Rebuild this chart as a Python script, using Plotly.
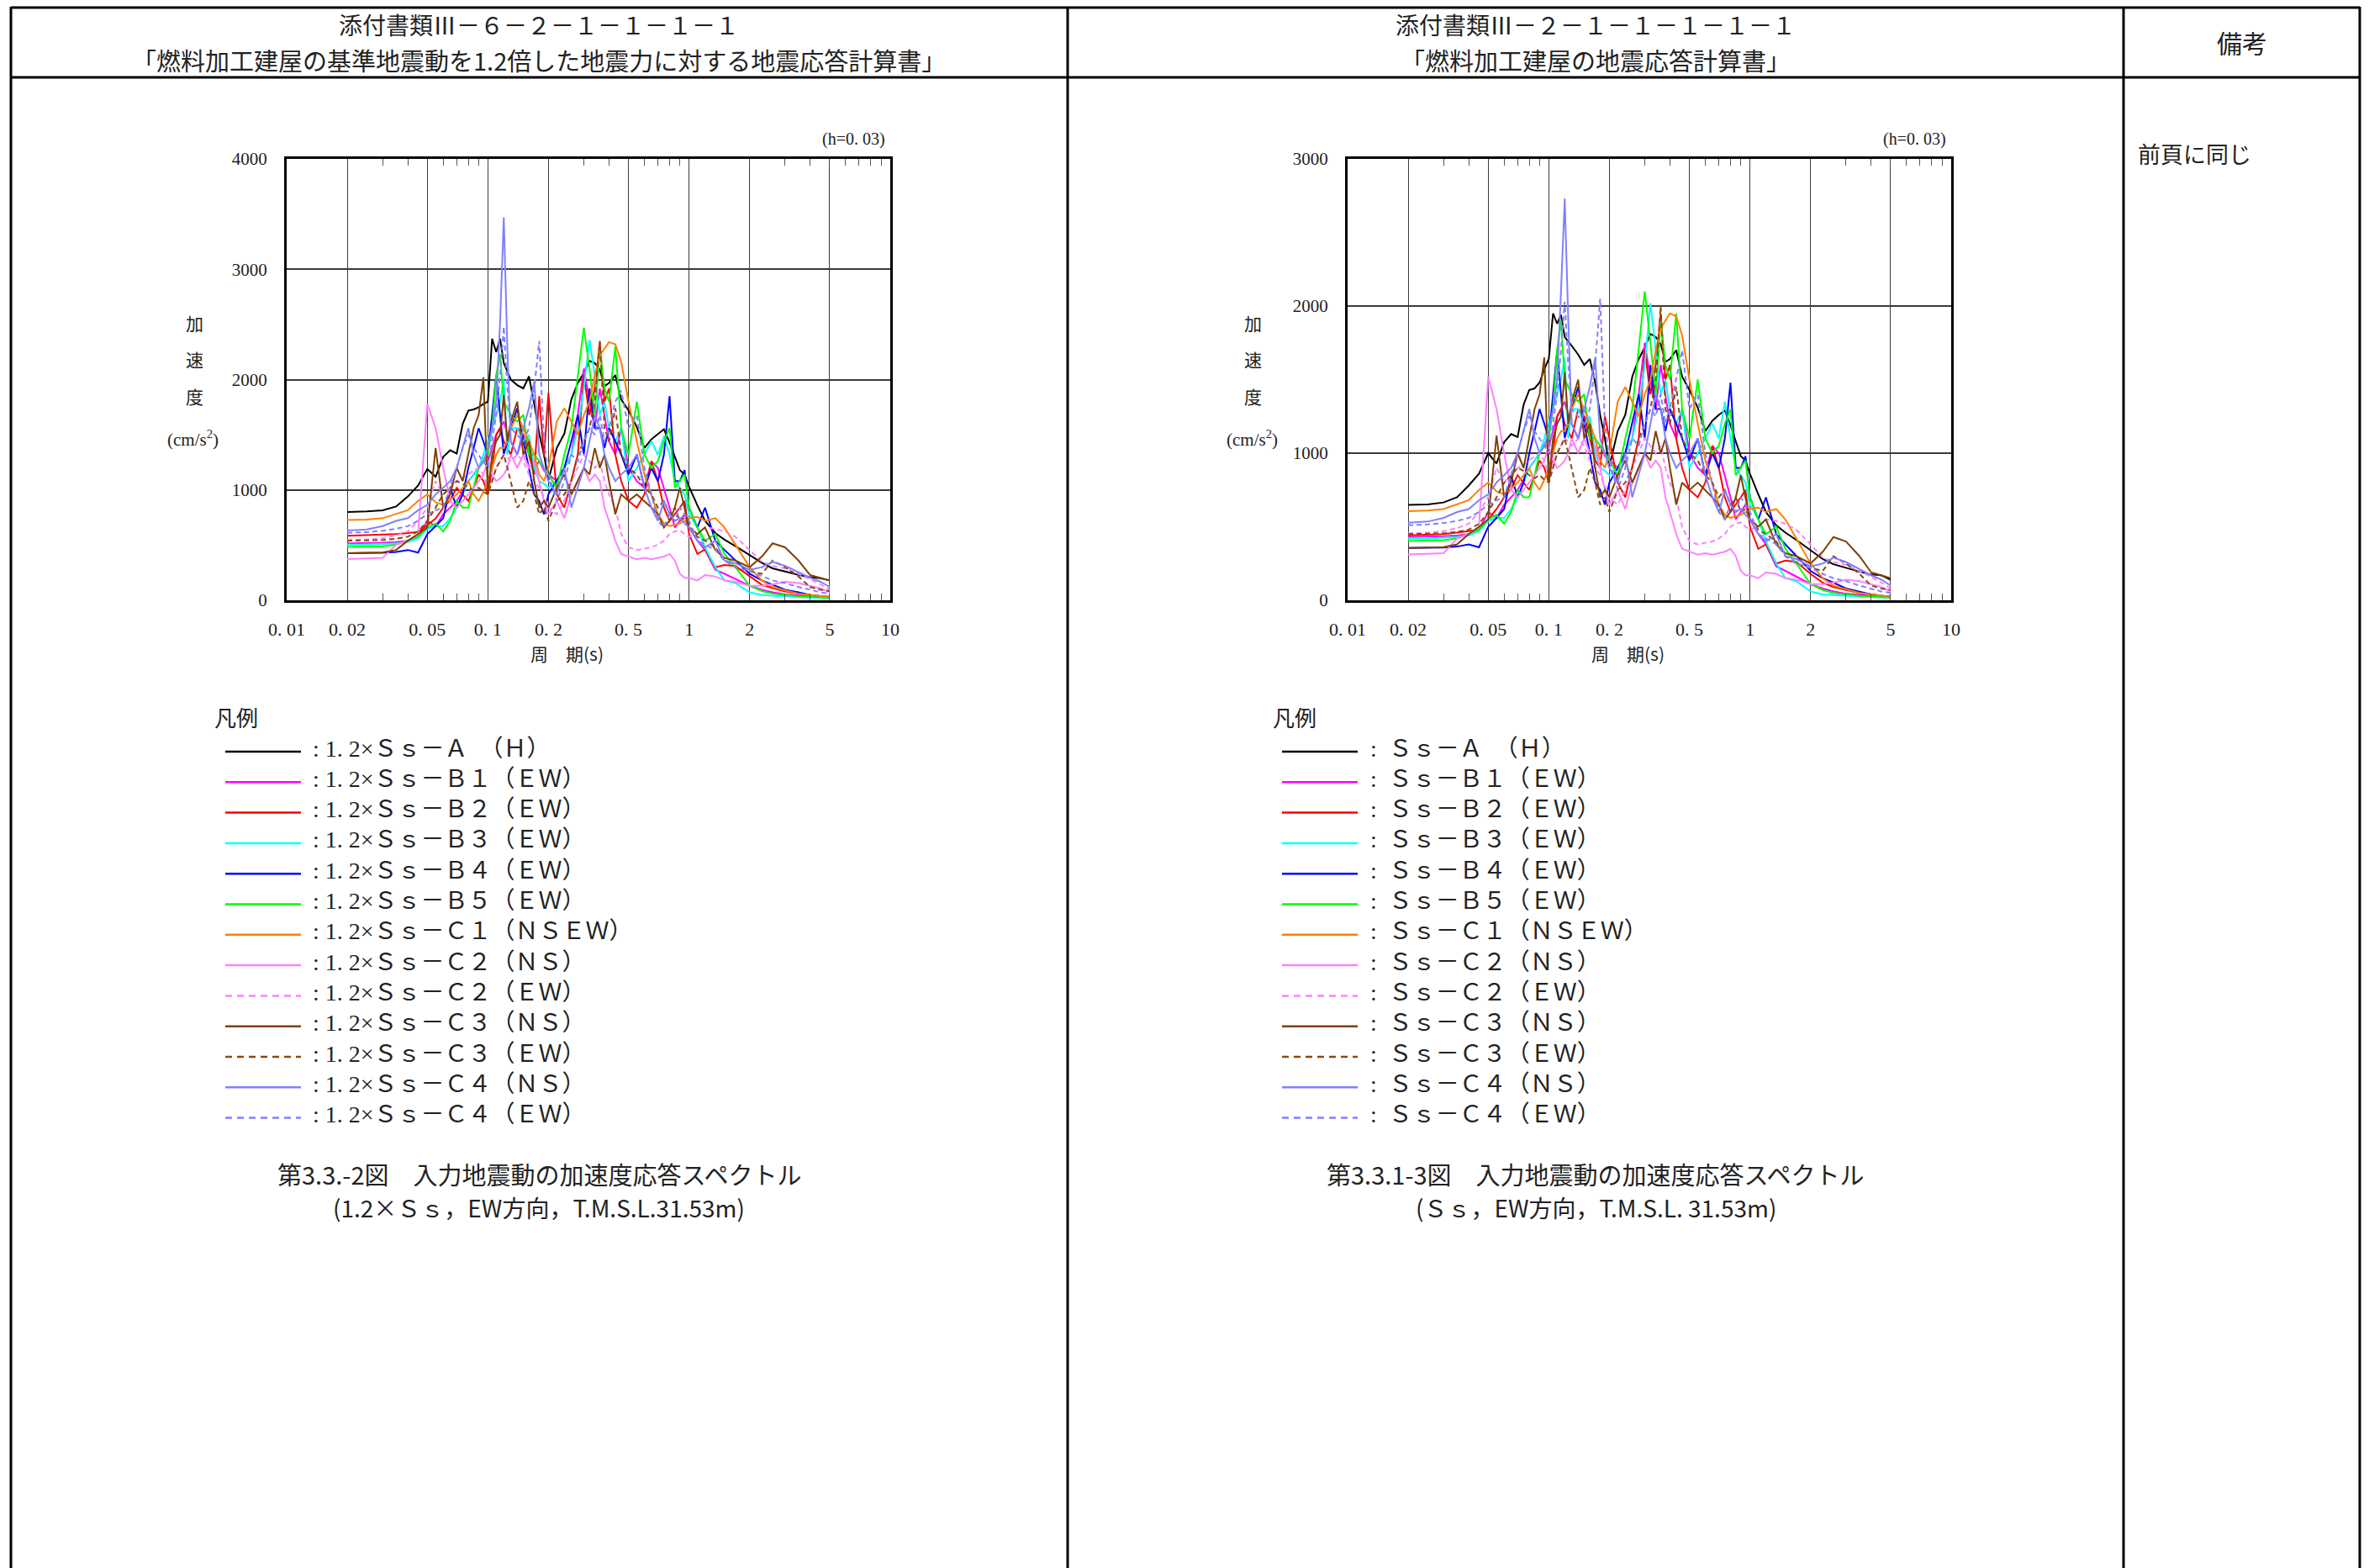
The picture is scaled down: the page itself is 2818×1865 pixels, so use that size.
import plotly.graph_objects as go

W, H = 2818, 1865

# ---------------- data ----------------
PERIOD = [0.02, 0.025, 0.03, 0.035, 0.04, 0.045, 0.05, 0.055, 0.06, 0.065,
          0.07, 0.075, 0.08, 0.085, 0.09, 0.095, 0.1, 0.105, 0.11, 0.115,
          0.12, 0.125, 0.13, 0.14, 0.15, 0.16, 0.17, 0.18, 0.19, 0.2,
          0.22, 0.24, 0.26, 0.28, 0.3, 0.32, 0.34, 0.36, 0.38, 0.4,
          0.43, 0.46, 0.5, 0.55, 0.6, 0.65, 0.7, 0.75, 0.8, 0.85,
          0.9, 0.95, 1.0, 1.1, 1.2, 1.35, 1.5, 1.7, 2.0, 2.3,
          2.6, 3.0, 3.5, 4.0, 4.5, 5.0]

# Right chart: Ss (cm/s2)
SS_A = [648, 652, 665, 700, 780, 860, 1000, 930, 1075, 1130,
        1110, 1330, 1430, 1440, 1480, 1570, 1640, 1950, 1880, 1940,
        1790, 1760, 1730, 1670, 1600, 1640, 1480, 1260, 1100, 910,
        1150, 1260, 1520, 1640, 1720, 1810, 1790, 1740, 1620, 1640,
        1700, 1520, 1430, 1310, 1150, 1220, 1260, 1290, 1190, 1080,
        980, 950, 860, 720, 600, 510, 460, 410, 340, 280,
        245, 220, 195, 175, 170, 140]
SS_B1 = [430, 432, 435, 440, 450, 480, 600, 560, 650, 700,
         750, 820, 900, 950, 1000, 1050, 1050, 1150, 1250, 1300,
         1350, 1250, 1200, 1100, 1250, 1150, 1000, 1050, 980, 950,
         900, 1000, 1100, 1400, 1750, 1500, 1300, 1600, 1400, 1200,
         1100, 1300, 1000, 900, 850, 1050, 1000, 850, 700, 550,
         600, 650, 550, 450, 380, 230, 200, 160, 110, 80,
         60, 45, 35, 30, 25, 20]
SS_B2 = [441, 445, 450, 460, 470, 480, 550, 620, 700, 760,
         850, 800, 750, 850, 950, 900, 800, 1000, 1250, 1300,
         1200, 1150, 1100, 1300, 1250, 1100, 950, 900, 1250, 1100,
         800, 700, 900, 1100, 1700, 1400, 1600, 1950, 1500, 1600,
         1100, 900, 750, 700, 800, 1050, 900, 700, 600, 650,
         700, 750, 500, 350, 380, 250, 270, 260, 180, 120,
         90, 70, 50, 40, 30, 25]
SS_B3 = [420, 420, 425, 430, 440, 470, 540, 560, 560, 620,
         700, 800, 900, 950, 1000, 1100, 1200, 1300, 1400, 1500,
         1650, 1100, 1300, 1300, 1200, 1250, 1000, 900, 880, 850,
         900, 1000, 1100, 1300, 1600, 2020, 1700, 1400, 1500, 1300,
         1200, 1300, 900, 1000, 1100, 1200, 1100, 1350, 1100, 900,
         850, 800, 650, 550, 400, 250, 150, 130, 60, 40,
         35, 30, 25, 20, 18, 15]
SS_B4 = [356, 356, 358, 365, 380, 360, 500, 560, 620, 850,
         700, 800, 1000, 1150, 1300, 1200, 1100, 1400, 1700, 1400,
         1100, 1200, 1300, 1450, 1200, 1000, 800, 750, 650, 800,
         900, 1000, 1200, 1400, 1100, 1600, 1300, 1300, 1150, 1300,
         1200, 1100, 950, 1100, 850, 1000, 900, 1100, 1480, 900,
         900, 980, 700, 550, 700, 450, 380, 300, 200, 150,
         120, 80, 60, 40, 30, 25]
SS_B5 = [403, 405, 408, 420, 450, 480, 550, 580, 520, 600,
         750, 700, 700, 850, 1000, 1050, 1100, 1300, 1700, 1900,
         1500, 1450, 1400, 1350, 1400, 1100, 1100, 1050, 1000, 950,
         850, 1100, 1300, 1700, 2100, 1750, 1400, 1900, 1600, 1500,
         1950, 1300, 1100, 1500, 1100, 1000, 1050, 1200, 1300, 850,
         900, 950, 700, 550, 450, 500, 350, 250, 110, 70,
         50, 40, 30, 25, 20, 18]
SS_C1 = [606, 610, 620, 650, 680, 750, 800, 740, 720, 760,
         800, 850, 900, 800, 750, 820, 900, 1000, 1100, 1150,
         1150, 1200, 1300, 1400, 1300, 1200, 1100, 950, 900, 1000,
         1350, 1450, 1350, 1250, 1400, 1500, 1700, 1850, 1900, 1950,
         1930, 1800, 1500, 1200, 950, 800, 650, 580, 560, 570,
         580, 600, 620, 630, 600, 620, 550, 420, 250, 150,
         100, 75, 50, 40, 30, 25]
SS_C2NS = [311, 315, 320, 420, 450, 500, 1520, 1300, 1000, 750,
           700, 750, 800, 850, 900, 950, 1050, 950, 900, 920,
           950, 1000, 1100, 1000, 1100, 1000, 1050, 900, 750, 650,
           750, 620, 800, 900, 1000, 900, 950, 900, 700, 600,
           450, 350, 330, 310, 320, 310, 320, 330, 350, 300,
           200, 170, 170, 150, 190, 180, 150, 140, 110, 110,
           120, 140, 130, 110, 90, 60]
SS_C2EW = [456, 460, 470, 490, 520, 600, 700, 900, 800, 850,
           900, 920, 950, 980, 1000, 950, 850, 900, 1000, 1050,
           1100, 1080, 1050, 1100, 1050, 950, 900, 850, 780, 700,
           650, 750, 900, 1000, 1100, 1050, 1000, 1050, 900, 800,
           700, 500, 400, 380, 390, 400, 420, 450, 500, 520,
           530, 500, 480, 500, 550, 540, 520, 480, 380, 290,
           260, 240, 200, 160, 120, 80]
SS_C3NS = [356, 358, 362, 380, 450, 500, 550, 1120, 700, 800,
           1000, 900, 1100, 1300, 1400, 1650, 800, 1100, 1200, 1250,
           1550, 1200, 1350, 1500, 1100, 1200, 900, 700, 750, 700,
           850, 950, 800, 900, 1000, 950, 1150, 1000, 1100, 900,
           650, 800, 750, 800, 750, 700, 650, 550, 600, 700,
           850, 700, 550, 500, 550, 380, 320, 300, 250, 330,
           430, 400, 300, 190, 170, 150]
SS_C3EW = [450, 452, 455, 465, 480, 520, 600, 700, 800, 850,
           900, 880, 850, 830, 850, 820, 800, 900, 1000, 1050,
           1100, 1000, 900, 700, 750, 900, 800, 650, 700, 600,
           750, 800, 900, 1100, 1200, 1300, 1500, 2000, 1300, 1200,
           1450, 1100, 1000, 950, 850, 800, 700, 750, 650, 700,
           600, 620, 550, 480, 450, 400, 300, 250, 220, 200,
           300, 250, 180, 100, 80, 70]
SS_C4NS = [527, 535, 560, 600, 620, 680, 720, 800, 850, 900,
           1000, 1150, 1300, 1100, 1000, 1050, 1150, 1300, 1500, 2100,
           2730, 1900, 1200, 1100, 1300, 1450, 1650, 1100, 1000, 900,
           800, 1000, 700, 850, 1000, 1200, 1400, 1300, 1100, 1000,
           900, 950, 1000, 1100, 850, 700, 600, 750, 650, 600,
           620, 580, 550, 450, 400, 450, 300, 280, 230, 250,
           290, 260, 210, 170, 140, 100]
SS_C4EW = [510, 515, 525, 540, 560, 600, 650, 680, 700, 850,
           1000, 1150, 1250, 1150, 1100, 1050, 1000, 1200, 1400, 1700,
           2030, 1600, 1300, 1250, 1200, 1300, 1600, 2050, 1200, 950,
           750, 900, 1100, 1050, 1200, 1300, 1250, 1400, 1200, 1300,
           1500, 1700, 1300, 1400, 1000, 800, 600, 550, 650, 600,
           700, 650, 600, 450, 420, 380, 300, 250, 220, 180,
           150, 130, 100, 80, 60, 50]

# Left chart: 1.2 x Ss (cm/s2)
L_A = [800, 805, 815, 850, 940, 1040, 1190, 1120, 1300, 1360,
       1330, 1600, 1720, 1730, 1750, 1780, 1800, 2370, 2250, 2370,
       2150, 2080, 2000, 1950, 1920, 2030, 1780, 1510, 1320, 1090,
       1380, 1510, 1820, 1970, 2060, 2170, 2150, 2090, 1940, 1970,
       2040, 1820, 1720, 1570, 1380, 1460, 1510, 1550, 1430, 1300,
       1180, 1140, 1030, 860, 720, 610, 550, 490, 410, 340,
       290, 260, 230, 210, 200, 180]
L_B1 = [516, 518, 522, 528, 540, 576, 720, 672, 780, 840,
        900, 984, 1080, 1140, 1200, 1260, 1260, 1380, 1500, 1560,
        1620, 1500, 1440, 1320, 1500, 1380, 1200, 1260, 1176, 1140,
        1080, 1200, 1320, 1680, 2100, 1800, 1560, 1920, 1680, 1440,
        1320, 1560, 1200, 1080, 1020, 1260, 1200, 1020, 840, 660,
        720, 780, 660, 540, 456, 276, 240, 192, 132, 96,
        72, 54, 42, 36, 30, 24]
L_B2 = [585, 590, 595, 600, 610, 620, 680, 740, 840, 910,
        1020, 960, 900, 1020, 1140, 1080, 960, 1200, 1500, 1560,
        1440, 1380, 1320, 1560, 1500, 1320, 1140, 1850, 1300, 1880,
        960, 840, 1080, 1320, 2040, 1680, 1920, 2340, 1800, 1920,
        1320, 1080, 900, 840, 960, 1260, 1080, 840, 720, 780,
        840, 900, 600, 420, 460, 300, 320, 310, 220, 140,
        110, 80, 60, 50, 40, 30]
L_B3 = [504, 504, 510, 516, 528, 564, 648, 672, 672, 744,
        840, 960, 1080, 1140, 1200, 1320, 1440, 1560, 1680, 1800,
        2000, 1320, 1560, 1560, 1440, 1500, 1200, 1080, 1056, 1020,
        1080, 1200, 1320, 1560, 1920, 2360, 2040, 1680, 1800, 1560,
        1440, 1560, 1080, 1200, 1320, 1440, 1320, 1490, 1320, 1080,
        1020, 960, 780, 660, 480, 300, 180, 156, 72, 48,
        42, 36, 30, 24, 22, 18]
L_B4 = [427, 427, 430, 438, 456, 432, 600, 672, 744, 1020,
        840, 960, 1200, 1380, 1560, 1440, 1320, 1680, 2040, 1680,
        1320, 1440, 1560, 1740, 1440, 1200, 960, 900, 780, 960,
        1080, 1200, 1440, 1680, 1320, 1920, 1560, 1560, 1380, 1560,
        1440, 1320, 1140, 1320, 1020, 1200, 1080, 1320, 1850, 1080,
        1080, 1180, 840, 660, 840, 540, 456, 360, 240, 180,
        144, 96, 72, 48, 36, 30]
L_B5 = [484, 486, 490, 504, 540, 576, 660, 696, 624, 720,
        900, 840, 840, 1020, 1200, 1260, 1320, 1560, 2040, 2230,
        1800, 1740, 1680, 1620, 1680, 1320, 1320, 1260, 1200, 1140,
        1020, 1320, 1560, 2040, 2470, 2100, 1680, 2280, 1920, 1800,
        2300, 1560, 1320, 1800, 1320, 1200, 1260, 1440, 1560, 1020,
        1080, 1140, 840, 660, 540, 600, 420, 300, 132, 84,
        60, 48, 36, 30, 24, 22]
L_C1 = [727, 732, 744, 780, 816, 900, 960, 888, 864, 912,
        960, 1020, 1080, 960, 900, 984, 1080, 1200, 1320, 1380,
        1380, 1440, 1560, 1680, 1560, 1440, 1320, 1140, 1080, 1200,
        1620, 1740, 1620, 1500, 1680, 1800, 2040, 2220, 2280, 2340,
        2320, 2160, 1800, 1440, 1140, 960, 780, 696, 672, 684,
        696, 720, 744, 756, 720, 744, 660, 504, 300, 180,
        120, 90, 60, 48, 36, 30]
L_C2NS = [373, 378, 384, 504, 540, 600, 1780, 1560, 1200, 900,
          840, 900, 960, 1020, 1080, 1140, 1260, 1140, 1080, 1104,
          1140, 1200, 1320, 1200, 1320, 1200, 1260, 1080, 900, 780,
          900, 744, 960, 1080, 1200, 1080, 1140, 1080, 840, 720,
          540, 420, 396, 372, 384, 372, 384, 396, 420, 360,
          240, 204, 204, 180, 228, 216, 180, 168, 132, 132,
          144, 168, 156, 132, 108, 72]
L_C2EW = [547, 552, 564, 588, 624, 720, 840, 1080, 960, 1020,
          1080, 1104, 1140, 1176, 1200, 1140, 1020, 1080, 1200, 1260,
          1320, 1296, 1260, 1320, 1260, 1140, 1080, 1020, 936, 840,
          780, 900, 1080, 1200, 1320, 1260, 1200, 1260, 1080, 960,
          840, 600, 480, 456, 468, 480, 504, 540, 600, 624,
          636, 600, 576, 600, 660, 648, 624, 576, 456, 348,
          312, 288, 240, 192, 144, 96]
L_C3NS = [427, 430, 434, 456, 540, 600, 660, 1380, 840, 960,
          1200, 1080, 1320, 1560, 1680, 2020, 960, 1320, 1440, 1500,
          1860, 1440, 1620, 1800, 1320, 1440, 1080, 840, 900, 840,
          1020, 1140, 960, 1080, 1200, 1140, 1380, 1200, 1320, 1080,
          780, 960, 900, 960, 900, 840, 780, 660, 720, 840,
          1020, 840, 660, 600, 660, 456, 384, 360, 300, 396,
          516, 480, 360, 228, 204, 180]
L_C3EW = [540, 542, 546, 558, 576, 624, 720, 840, 960, 1020,
          1080, 1056, 1020, 996, 1020, 984, 960, 1080, 1200, 1260,
          1320, 1200, 1080, 840, 900, 1080, 960, 780, 840, 720,
          900, 960, 1080, 1320, 1440, 1560, 1800, 2350, 1560, 1440,
          1740, 1320, 1200, 1140, 1020, 960, 840, 900, 780, 840,
          720, 744, 660, 576, 540, 480, 360, 300, 264, 240,
          360, 300, 216, 120, 96, 84]
L_C4NS = [632, 642, 672, 720, 744, 816, 864, 960, 1020, 1080,
          1200, 1380, 1560, 1320, 1200, 1260, 1380, 1560, 1800, 2520,
          3470, 2280, 1440, 1320, 1560, 1740, 1980, 1320, 1200, 1080,
          960, 1200, 840, 1020, 1200, 1440, 1680, 1560, 1320, 1200,
          1080, 1140, 1200, 1320, 1020, 840, 720, 900, 780, 720,
          744, 696, 660, 540, 480, 540, 360, 336, 276, 300,
          348, 312, 252, 204, 168, 120]
L_C4EW = [612, 618, 630, 648, 672, 720, 780, 816, 840, 1020,
          1200, 1380, 1500, 1380, 1320, 1260, 1200, 1440, 1680, 2040,
          2480, 1920, 1560, 1500, 1440, 1560, 1920, 2350, 1440, 1140,
          900, 1080, 1320, 1260, 1440, 1560, 1500, 1680, 1440, 1560,
          1800, 1900, 1560, 1680, 1200, 960, 720, 660, 780, 720,
          840, 780, 720, 540, 504, 456, 360, 300, 264, 216,
          180, 156, 120, 96, 72, 60]

LEFT_SERIES = [L_A, L_B1, L_B2, L_B3, L_B4, L_B5, L_C1, L_C2NS, L_C2EW,
               L_C3NS, L_C3EW, L_C4NS, L_C4EW]
RIGHT_SERIES = [SS_A, SS_B1, SS_B2, SS_B3, SS_B4, SS_B5, SS_C1, SS_C2NS, SS_C2EW,
                SS_C3NS, SS_C3EW, SS_C4NS, SS_C4EW]

LEFT_LABELS = [": 1. 2×Ｓｓ－Ａ　（Ｈ）", ": 1. 2×Ｓｓ－Ｂ１（ＥＷ）", ": 1. 2×Ｓｓ－Ｂ２（ＥＷ）",
               ": 1. 2×Ｓｓ－Ｂ３（ＥＷ）", ": 1. 2×Ｓｓ－Ｂ４（ＥＷ）", ": 1. 2×Ｓｓ－Ｂ５（ＥＷ）",
               ": 1. 2×Ｓｓ－Ｃ１（ＮＳＥＷ）", ": 1. 2×Ｓｓ－Ｃ２（ＮＳ）", ": 1. 2×Ｓｓ－Ｃ２（ＥＷ）",
               ": 1. 2×Ｓｓ－Ｃ３（ＮＳ）", ": 1. 2×Ｓｓ－Ｃ３（ＥＷ）", ": 1. 2×Ｓｓ－Ｃ４（ＮＳ）",
               ": 1. 2×Ｓｓ－Ｃ４（ＥＷ）"]
RIGHT_LABELS = [":  Ｓｓ－Ａ　（Ｈ）", ":  Ｓｓ－Ｂ１（ＥＷ）", ":  Ｓｓ－Ｂ２（ＥＷ）",
                ":  Ｓｓ－Ｂ３（ＥＷ）", ":  Ｓｓ－Ｂ４（ＥＷ）", ":  Ｓｓ－Ｂ５（ＥＷ）",
                ":  Ｓｓ－Ｃ１（ＮＳＥＷ）", ":  Ｓｓ－Ｃ２（ＮＳ）", ":  Ｓｓ－Ｃ２（ＥＷ）",
                ":  Ｓｓ－Ｃ３（ＮＳ）", ":  Ｓｓ－Ｃ３（ＥＷ）", ":  Ｓｓ－Ｃ４（ＮＳ）",
                ":  Ｓｓ－Ｃ４（ＥＷ）"]
COLORS = ["#000000", "#FF00FF", "#FF0000", "#00FFFF", "#0000FF", "#00FF00", "#FF8000",
          "#FF80FF", "#FF80FF", "#804000", "#8B4A10", "#8080FF", "#8080FF"]
DASHED = [False, False, False, False, False, False, False, False, True, False, True, False, True]

TICK_VALS = [0.01, 0.02, 0.05, 0.1, 0.2, 0.5, 1, 2, 5, 10]
TICK_TEXT = ["0. 01", "0. 02", "0. 05", "0. 1", "0. 2", "0. 5", "1", "2", "5", "10"]
MINOR_VALS = [0.03, 0.04, 0.06, 0.07, 0.08, 0.09, 0.3, 0.4, 0.6, 0.7, 0.8, 0.9,
              3, 4, 6, 7, 8, 9]
LEFT_YTICKS = [0, 1000, 2000, 3000, 4000]
RIGHT_YTICKS = [0, 1000, 2000, 3000]

for s in LEFT_SERIES + RIGHT_SERIES:
    assert len(s) == len(PERIOD), len(s)

# ---------------- helpers ----------------
SERIF = "Liberation Serif, Noto Sans CJK JP, serif"
JP = "Noto Sans CJK JP, sans-serif"
TXT = "#222222"


def X(px):
    return px / W


def Y(py):
    return 1 - py / H


fig = go.Figure()

for i in range(13):
    dash = "6px,4px" if DASHED[i] else "solid"
    fig.add_trace(go.Scatter(x=PERIOD, y=LEFT_SERIES[i], mode="lines", xaxis="x", yaxis="y",
                             line=dict(color=COLORS[i], width=2, dash=dash), showlegend=False,
                             hoverinfo="skip"))
    fig.add_trace(go.Scatter(x=PERIOD, y=RIGHT_SERIES[i], mode="lines", xaxis="x2", yaxis="y2",
                             line=dict(color=COLORS[i], width=2, dash=dash), showlegend=False,
                             hoverinfo="skip"))


def xcfg(domain, anchor):
    return dict(type="log", range=[-2, 1], domain=domain, anchor=anchor, automargin=False,
                tickmode="array", tickvals=TICK_VALS, ticktext=TICK_TEXT,
                showgrid=True, gridcolor="#3a3a3a", gridwidth=1, zeroline=False,
                showline=True, linecolor="black", linewidth=3, mirror="allticks",
                ticks="inside", ticklen=8, tickcolor="#444", tickwidth=1,
                minor=dict(tickmode="array", tickvals=MINOR_VALS, ticks="inside", ticklen=8,
                           tickcolor="#555", tickwidth=1, showgrid=False),
                tickfont=dict(family=SERIF, size=22, color=TXT), ticklabelstandoff=13)


def ycfg(domain, anchor, rng, ticks):
    return dict(range=rng, domain=domain, anchor=anchor, automargin=False,
                tickmode="array", tickvals=ticks,
                showgrid=True, gridcolor="#3a3a3a", gridwidth=1.5, zeroline=False,
                showline=True, linecolor="black", linewidth=3, mirror=True, ticks="",
                tickfont=dict(family=SERIF, size=21, color=TXT), ticklabelstandoff=16)


PL_TOP, PL_BOT = 189, 714
fig.update_layout(
    template="none",
    width=W, height=H, autosize=False,
    margin=dict(l=0, r=0, t=0, b=0, pad=0, autoexpand=False),
    paper_bgcolor="white", plot_bgcolor="white", showlegend=False,
    xaxis=xcfg([X(341), X(1059)], "y"),
    yaxis=ycfg([Y(PL_BOT), Y(PL_TOP)], "x", [0, 4000], LEFT_YTICKS),
    xaxis2=xcfg([X(1603), X(2321)], "y2"),
    yaxis2=ycfg([Y(PL_BOT), Y(PL_TOP)], "x2", [0, 3000], RIGHT_YTICKS),
)

shapes = []
annots = []


def line(x0, y0, x1, y1, width=2, color="black", dash="solid"):
    shapes.append(dict(type="line", xref="paper", yref="paper", x0=X(x0), y0=Y(y0),
                       x1=X(x1), y1=Y(y1), line=dict(color=color, width=width, dash=dash)))


def text(x, y, s, size=20, family=JP, xanchor="center", color=TXT):
    annots.append(dict(xref="paper", yref="paper", x=X(x), y=Y(y), text=s, showarrow=False,
                       xanchor=xanchor, yanchor="middle",
                       font=dict(family=family, size=size, color=color)))


# table frame
line(13, 9, 2807, 9, width=3)
line(13, 92, 2807, 92, width=3)
for xv in (13, 1270, 2526, 2807):
    line(xv, 8, xv, 1865, width=3)

# header texts
text(641, 29, "添付書類Ⅲ－６－２－１－１－１－１", size=28)
text(641, 71, "「燃料加工建屋の基準地震動を1.2倍した地震力に対する地震応答計算書」", size=29)
text(1898, 29, "添付書類Ⅲ－２－１－１－１－１－１", size=28)
text(1898, 71, "「燃料加工建屋の地震応答計算書」", size=29)
text(2667, 50, "備考", size=30)
text(2541, 182, "前頁に同じ", size=27, xanchor="left")

# chart annotations
for (px0, px1, ylab_x) in ((341, 1059, 231), (1603, 2321, 1491)):
    text(px1 - 4, 165, "(h=0. 03)", size=20, family=SERIF, xanchor="right")
    for yy, ch in ((384, "加"), (427, "速"), (471, "度")):
        text(ylab_x, yy, ch, size=21)
    text(ylab_x - 2, 522, "(cm/s<sup>2</sup>)", size=21, family=SERIF)
    text((px0 + px1) / 2 - 26, 777, "周　期(s)", size=21)

# legends
ROW0, DY = 890, 36.3
for (lx0, lx1, tx, labels, title_x) in ((268, 358, 370, LEFT_LABELS, 253),
                                        (1525, 1615, 1628, RIGHT_LABELS, 1512)):
    text(title_x, 852, "凡例", size=26, xanchor="left")
    for i, lab in enumerate(labels):
        yy = ROW0 + i * DY
        line(lx0, yy + 4, lx1, yy + 4, width=2.5, color=COLORS[i],
             dash="8px,6px" if DASHED[i] else "solid")
        text(tx, yy, lab, size=28, family=SERIF, xanchor="left")

# captions
text(641, 1396, "第3.3.-2図　入力地震動の加速度応答スペクトル", size=29)
text(641, 1436, "(1.2×Ｓｓ，EW方向，T.M.S.L.31.53m)", size=28)
text(1898, 1396, "第3.3.1-3図　入力地震動の加速度応答スペクトル", size=29)
text(1898, 1436, "(Ｓｓ，EW方向，T.M.S.L. 31.53m)", size=28)

fig.update_layout(shapes=shapes, annotations=annots)

fig.write_html("out.html", config={"displayModeBar": False},
               post_script="document.body.style.margin='0';document.body.style.overflow='hidden';")
